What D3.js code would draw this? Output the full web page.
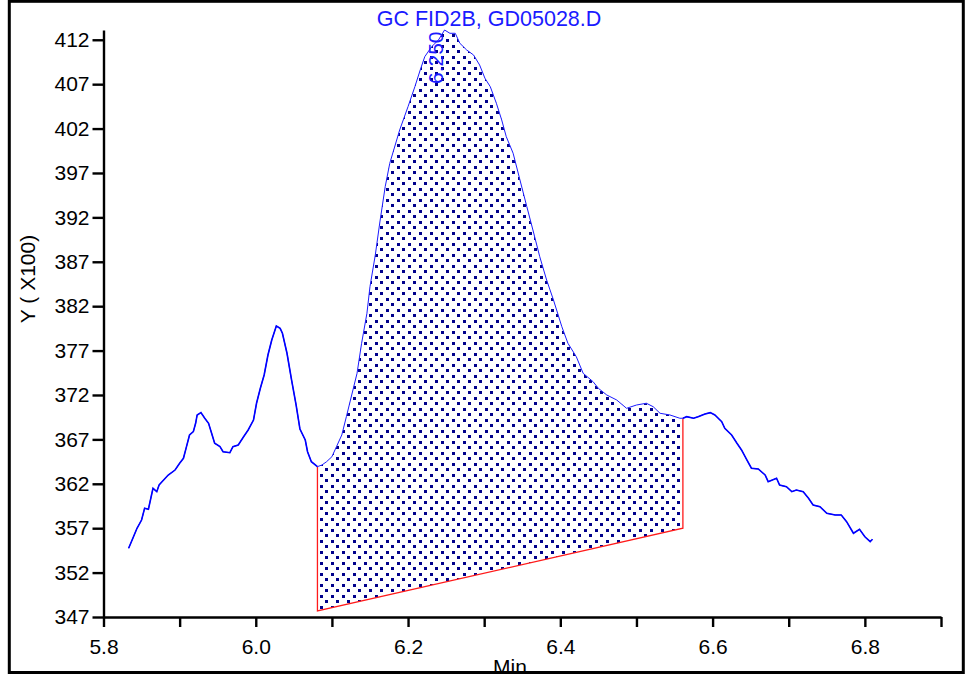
<!DOCTYPE html>
<html>
<head>
<meta charset="utf-8">
<script src="https://cdn.jsdelivr.net/npm/d3@7"></script>
<style>
  html, body { margin: 0; padding: 0; background: #fff; }
  svg { display: block; }
  text { font-family: "Liberation Sans", Arial, sans-serif; }
</style>
</head>
<body>
<svg id="chart" width="971" height="675"></svg>
<script>
// ---- data (retention time in min, signal in Y x100) ----
const times = [5.833,5.838,5.844,5.850,5.854,5.859,5.865,5.870,5.873,5.879,5.885,5.894,5.900,5.905,5.909,5.913,5.918,5.921,5.923,5.928,5.933,5.938,5.942,5.946,5.953,5.957,5.966,5.970,5.977,5.984,5.990,5.997,6.001,6.006,6.011,6.016,6.021,6.027,6.032,6.035,6.041,6.047,6.053,6.058,6.065,6.068,6.073,6.081,6.087,6.093,6.100,6.106,6.113,6.119,6.126,6.133,6.139,6.146,6.150,6.157,6.163,6.170,6.176,6.189,6.200,6.209,6.216,6.222,6.231,6.240,6.248,6.255,6.262,6.268,6.277,6.286,6.294,6.301,6.308,6.316,6.323,6.329,6.338,6.347,6.356,6.364,6.373,6.382,6.391,6.402,6.410,6.421,6.430,6.443,6.450,6.461,6.474,6.487,6.500,6.513,6.522,6.531,6.544,6.557,6.561,6.566,6.575,6.581,6.590,6.597,6.603,6.612,6.616,6.625,6.632,6.638,6.645,6.651,6.660,6.669,6.673,6.684,6.688,6.697,6.704,6.710,6.719,6.726,6.732,6.741,6.750,6.761,6.769,6.776,6.785,6.793,6.800,6.807,6.810];
const values = [354.74,355.75,356.99,357.92,359.24,359.13,361.49,361.11,361.86,362.43,362.99,363.55,364.31,364.87,366.18,367.50,367.87,368.81,369.75,370.01,369.38,368.81,367.69,366.56,366.18,365.61,365.50,366.18,366.37,367.30,368.06,369.18,371.07,372.75,374.25,376.50,378.19,379.77,379.51,378.95,376.70,373.69,370.87,368.17,366.93,365.61,364.49,363.93,364.12,364.49,365.05,366.18,367.50,369.56,372.00,374.44,377.82,381.20,384.20,387.77,391.48,395.46,398.09,401.84,404.47,406.72,408.60,410.10,411.22,411.98,413.10,412.73,412.73,411.61,410.85,410.29,409.16,407.66,406.72,404.85,402.97,401.09,399.22,396.21,393.21,390.58,387.57,384.95,382.70,379.69,377.82,376.31,374.44,373.50,372.75,372.00,371.44,370.50,370.87,371.07,370.68,369.94,369.75,369.38,369.38,369.56,369.38,369.56,369.86,370.01,369.75,368.99,368.25,367.50,366.56,365.81,364.68,363.75,363.67,362.99,362.24,362.62,361.86,361.67,361.11,361.30,361.11,360.37,359.61,359.42,358.68,358.49,358.49,357.73,356.43,356.88,356.04,355.48,355.75];

// integration baseline (start / end of the integrated peak)
const baselineTimes = [6.081, 6.561];
const baselineValues = [347.68, 357.0];

// peak annotation
const peakTimes = [6.250];
const peakLabels = ["6.250"];

// axes
const yTickValues = [347,352,357,362,367,372,377,382,387,392,397,402,407,412];
const xTickValues = [5.8,5.9,6.0,6.1,6.2,6.3,6.4,6.5,6.6,6.7,6.8,6.9];
const xTickLabels = ["5.8","","6.0","","6.2","","6.4","","6.6","","6.8",""];
const xDomain = [5.8, 6.9];
const yDomain = [347, 413.1];

const title = "GC FID2B, GD05028.D";
const xTitle = "Min";
const yTitle = "Y ( X100)";

// ---- drawing ----
const svg = d3.select("#chart");
const plot = {left: 103.5, right: 941, top: 30, bottom: 617};

const x = d3.scaleLinear().domain(xDomain).range([plot.left, plot.right]);
const y = d3.scaleLinear().domain(yDomain).range([plot.bottom, plot.top]);

const data = times.map((t, i) => ({t, v: values[i]}));
const bis = d3.bisector(d => d.t).left;
function interp(t) {
  const i = Math.max(1, Math.min(data.length - 1, bis(data, t)));
  const a = data[i - 1], b = data[i];
  const f = (t - a.t) / (b.t - a.t);
  return a.v + f * (b.v - a.v);
}

// fill pattern (staggered dots)
const defs = svg.append("defs");
const pat = defs.append("pattern")
  .attr("id", "dots").attr("patternUnits", "userSpaceOnUse")
  .attr("width", 11).attr("height", 11);
pat.append("rect").attr("x", 1).attr("y", 1).attr("width", 3).attr("height", 3)
  .attr("fill", "#00008b").attr("shape-rendering", "crispEdges");
pat.append("rect").attr("x", 6).attr("y", 6).attr("width", 3).attr("height", 3)
  .attr("fill", "#00008b").attr("shape-rendering", "crispEdges");

const t1 = baselineTimes[0], t2 = baselineTimes[1];
const inside = data.filter(d => d.t >= t1 && d.t <= t2);
const top1 = {t: t1, v: interp(t1)}, top2 = {t: t2, v: interp(t2)};
const poly = [top1, ...inside.filter(d => d.t > t1 && d.t < t2), top2,
  {t: t2, v: baselineValues[1]}, {t: t1, v: baselineValues[0]}];

const line = d3.line().x(d => x(d.t)).y(d => y(d.v));

svg.append("path").attr("d", line(poly) + "Z")
  .attr("fill", "url(#dots)").attr("stroke", "none");

// red baseline/drop lines
svg.append("path")
  .attr("d", line([top1, {t: t1, v: baselineValues[0]}, {t: t2, v: baselineValues[1]}, top2]))
  .attr("fill", "none").attr("stroke", "#ff1a1a").attr("stroke-width", 1.3);

// signal line: thin everywhere, thicker outside the integrated peak
svg.append("path").attr("d", line(data))
  .attr("fill", "none").attr("stroke", "#1a1aff").attr("stroke-width", 1);
const before = data.filter(d => d.t <= t1);
const after = data.filter(d => d.t >= t2);
[before, after].forEach(seg => {
  svg.append("path").attr("d", line(seg))
    .attr("fill", "none").attr("stroke", "#0000ff").attr("stroke-width", 1.6);
});

// axes
const yAxis = d3.axisLeft(y).tickValues(yTickValues).tickSize(11).tickSizeOuter(0).tickPadding(3);
const gy = svg.append("g").attr("transform", `translate(${plot.left},0)`).call(yAxis);
gy.select(".domain").attr("stroke-width", 2.4);
gy.selectAll(".tick line").attr("stroke-width", 2.4);
gy.selectAll(".tick text").attr("font-size", 21).attr("fill", "#000")
  .attr("font-family", "'Liberation Sans', Arial, sans-serif");

const xAxis = d3.axisBottom(x).tickValues(xTickValues)
  .tickFormat((d, i) => xTickLabels[i]).tickSize(10).tickSizeOuter(0).tickPadding(12);
const gx = svg.append("g").attr("transform", `translate(0,${plot.bottom})`).call(xAxis);
gx.select(".domain").attr("stroke-width", 2.4);
gx.selectAll(".tick line").attr("stroke-width", 2.4);
gx.selectAll(".tick text").attr("font-size", 21).attr("fill", "#000")
  .attr("font-family", "'Liberation Sans', Arial, sans-serif");

// titles
svg.append("text").attr("x", 489).attr("y", 26).attr("text-anchor", "middle")
  .attr("font-size", 21.5).attr("fill", "#1a1aff").text(title);

svg.append("text").attr("transform", "translate(35,279) rotate(-90)")
  .attr("text-anchor", "middle").attr("font-size", 21).attr("fill", "#000").text(yTitle);

svg.append("text").attr("x", 510).attr("y", 674).attr("text-anchor", "middle")
  .attr("font-size", 21).attr("fill", "#000").text(xTitle);

// peak label
peakTimes.forEach((pt, i) => {
  svg.append("text")
    .attr("transform", `translate(${x(pt) - 3},${84}) rotate(-90)`)
    .attr("text-anchor", "start").attr("font-size", 21).attr("fill", "#1a1aff")
    .text(peakLabels[i]);
});

// outer frame
svg.append("rect").attr("x", 9.3).attr("y", 1.3).attr("width", 954).attr("height", 671.2)
  .attr("fill", "none").attr("stroke", "#000").attr("stroke-width", 3);
</script>
</body>
</html>
